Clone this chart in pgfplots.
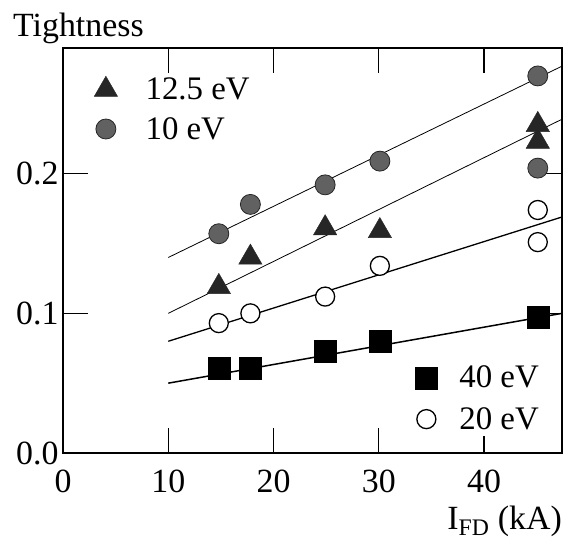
\documentclass[border=0pt]{standalone}
\usepackage{fontspec}
\setmainfont{Liberation Serif}
\usepackage{pgfplots}
\pgfplotsset{compat=1.18}
\begin{document}
\begin{tikzpicture}
\pgfplotsset{
  base/.style={
    width=499bp, height=405bp, scale only axis,
    xmin=0, xmax=47.4, ymin=0, ymax=0.29,
    clip=true,
    legend cell align=left,
    legend image code/.code={\draw[##1] plot coordinates {(0bp,0bp)};},
  },
}
\begin{axis}[base,
  axis line style={line width=1.2bp, black},
  xtick={0,10,20,30,40}, ytick={0,0.1,0.2},
  tick align=inside, major tick length=25bp,
  tick style={line width=1.2bp, black},
  /pgf/number format/assume math mode=true,
  tick label style={font=\fontsize{34}{38}\selectfont},
  xticklabel style={yshift=-13bp},
  yticklabel style={xshift=-1bp, /pgf/number format/fixed, /pgf/number format/fixed zerofill, /pgf/number format/precision=1},
  xlabel={I\textsubscript{FD} (kA)},
  every axis x label/.style={at={(rel axis cs:1,0)}, anchor=base east, yshift=-76bp, inner sep=0pt, font=\fontsize{34}{38}\selectfont},
  ylabel={Tightness},
  every axis y label/.style={at={(rel axis cs:0,1)}, anchor=base west, xshift=-50bp, yshift=11bp, inner sep=0pt, font=\fontsize{34}{38}\selectfont},
  legend style={draw=none, fill=none, inner sep=0pt, at={(rel axis cs:0,1)}, anchor=north west, xshift=31bp, yshift=-28bp,
    font=\fontsize{33}{38}\selectfont, row sep=14bp, nodes={inner sep=1bp},
    /tikz/every odd column/.append style={column sep=27bp}},
]
\coordinate (A) at (rel axis cs:0,0);
% fit lines
\addplot[forget plot, black, line width=0.8bp] coordinates {(10,0.140) (47.4,0.277)};
\addplot[forget plot, black, line width=0.8bp] coordinates {(10,0.100) (47.4,0.239)};
% 12.5 eV
\addplot[only marks, mark=triangle*, mark size=13.5bp, mark options={fill=black!85, draw=black!85}]
  coordinates {(14.8,0.119) (17.8,0.140) (24.9,0.161) (30.1,0.159) (45.1,0.235) (45.1,0.223)};
\addlegendentry{12.5 eV}
% 10 eV
\addplot[only marks, mark=*, mark size=10bp, mark options={fill=black!62, draw=black!85, line width=0.8bp}]
  coordinates {(14.8,0.157) (17.8,0.178) (24.9,0.192) (30.1,0.209) (45.1,0.270) (45.1,0.204)};
\addlegendentry{10 eV}
\end{axis}
\begin{axis}[base, hide axis,
  legend style={draw=none, fill=white, inner sep=4bp, at={(rel axis cs:1,0)}, anchor=south east, xshift=-18bp, yshift=17bp,
    font=\fontsize{33}{38}\selectfont, row sep=16bp, nodes={inner sep=1bp},
    /tikz/every odd column/.append style={column sep=21bp}},
]
\addplot[forget plot, black, line width=1.3bp] coordinates {(10,0.080) (47.4,0.169)};
\addplot[forget plot, black, line width=1.5bp] coordinates {(10,0.050) (47.4,0.100)};
% 40 eV
\addplot[only marks, mark=square*, mark size=11bp, mark options={fill=black, draw=black}]
  coordinates {(14.8,0.061) (17.8,0.061) (24.9,0.073) (30.1,0.080) (45.1,0.097)};
\addlegendentry{40 eV}
% 20 eV
\addplot[only marks, mark=*, mark size=9.5bp, mark options={fill=white, draw=black, line width=1.3bp}]
  coordinates {(14.8,0.093) (17.8,0.100) (24.9,0.112) (30.1,0.134) (45.1,0.174) (45.1,0.151)};
\addlegendentry{20 eV}
\end{axis}
\pgfresetboundingbox
\path ([shift={(-63bp,-89bp)}]A) rectangle ([shift={(501bp,453bp)}]A);
\end{tikzpicture}
\end{document}
